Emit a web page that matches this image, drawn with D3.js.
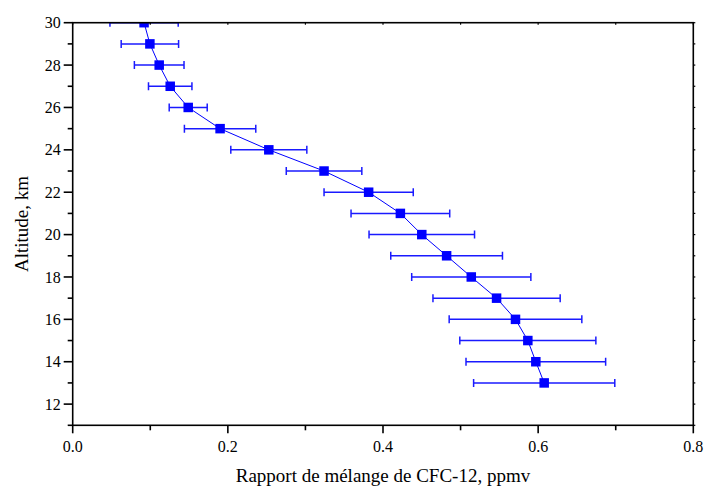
<!DOCTYPE html>
<html>
<head>
<meta charset="utf-8">
<script src="https://cdn.jsdelivr.net/npm/d3@7"></script>
<style>
  html, body { margin: 0; padding: 0; background: #fff; }
  svg { display: block; }
</style>
</head>
<body>
<div id="chart"></div>
<script>
// Data
const altitudes = [30, 29, 28, 27, 26, 25, 24, 23, 22, 21, 20, 19, 18, 17, 16, 15, 14, 13];
const mixingRatio = [0.092, 0.0995, 0.1115, 0.1257, 0.1489, 0.190, 0.2528, 0.324, 0.3815, 0.4224, 0.450, 0.482, 0.5138, 0.5464, 0.5708, 0.5867, 0.597, 0.6078];
const errors = [0.044, 0.037, 0.032, 0.028, 0.0245, 0.046, 0.049, 0.0487, 0.0575, 0.0636, 0.068, 0.072, 0.0768, 0.082, 0.0855, 0.0877, 0.090, 0.091];
const xTicks = [0.0, 0.2, 0.4, 0.6, 0.8];
const xMinorTicks = [0.1, 0.3, 0.5, 0.7];
const yTicks = [12, 14, 16, 18, 20, 22, 24, 26, 28, 30];
const yMinorTicks = [11, 13, 15, 17, 19, 21, 23, 25, 27, 29];
const xTitle = "Rapport de mélange de CFC-12, ppmv";
const yTitle = "Altitude, km";

const W = 707, H = 489;
const mLeft = 72.7, mRight = 693.3, mTop = 22.7, mBottom = 425.3;
const FONT = "'Liberation Serif', 'Times New Roman', 'DejaVu Serif', serif";

const svg = d3.select("#chart").append("svg").attr("width", W).attr("height", H)
  .attr("font-family", FONT);

const x = d3.scaleLinear().domain([0, 0.8]).range([mLeft, mRight]);
const y = d3.scaleLinear().domain([11, 30]).range([mBottom, mTop]);

const data = altitudes.map((a, i) => ({ a, v: mixingRatio[i], e: errors[i] }));

svg.append("defs").append("clipPath").attr("id", "clip")
  .append("rect").attr("x", mLeft).attr("y", mTop).attr("width", mRight - mLeft).attr("height", mBottom - mTop);

const plot = svg.append("g").attr("clip-path", "url(#clip)");
const blue = "#0000ff";

// connecting line
plot.append("path")
  .datum(data)
  .attr("fill", "none")
  .attr("stroke", blue)
  .attr("stroke-width", 1)
  .attr("d", d3.line().x(d => x(d.v)).y(d => y(d.a)));

// error bars
const eb = plot.append("g").attr("stroke", "#1a1aff").attr("stroke-width", 1.5);
data.forEach(d => {
  const yy = y(d.a), x1 = x(d.v - d.e), x2 = x(d.v + d.e);
  eb.append("line").attr("x1", x1).attr("x2", x2).attr("y1", yy).attr("y2", yy);
  eb.append("line").attr("x1", x1).attr("x2", x1).attr("y1", yy - 4).attr("y2", yy + 4);
  eb.append("line").attr("x1", x2).attr("x2", x2).attr("y1", yy - 4).attr("y2", yy + 4);
});

// markers
const ms = 9.5;
plot.selectAll("rect.m").data(data).enter().append("rect")
  .attr("class", "m")
  .attr("x", d => x(d.v) - ms / 2)
  .attr("y", d => y(d.a) - ms / 2)
  .attr("width", ms).attr("height", ms)
  .attr("fill", blue);

// frame
const axisG = svg.append("g").attr("stroke", "#000").attr("fill", "none");
axisG.append("rect").attr("x", mLeft).attr("y", mTop).attr("width", mRight - mLeft).attr("height", mBottom - mTop)
  .attr("stroke-width", 1.6);

// bottom axis ticks (outward)
xTicks.forEach(t => axisG.append("line").attr("x1", x(t)).attr("x2", x(t)).attr("y1", mBottom).attr("y2", mBottom + 8).attr("stroke-width", 1.6));
xMinorTicks.forEach(t => axisG.append("line").attr("x1", x(t)).attr("x2", x(t)).attr("y1", mBottom).attr("y2", mBottom + 5).attr("stroke-width", 1.6));
// left axis ticks (outward)
yTicks.forEach(t => axisG.append("line").attr("x1", mLeft).attr("x2", mLeft - 9).attr("y1", y(t)).attr("y2", y(t)).attr("stroke-width", 1.6));
yMinorTicks.forEach(t => axisG.append("line").attr("x1", mLeft).attr("x2", mLeft - 5).attr("y1", y(t)).attr("y2", y(t)).attr("stroke-width", 1.6));
// top and right tiny ticks
xTicks.concat(xMinorTicks).forEach(t => axisG.append("line").attr("x1", x(t)).attr("x2", x(t)).attr("y1", mTop).attr("y2", mTop + 2).attr("stroke-width", 1.2));
yTicks.concat(yMinorTicks).forEach(t => axisG.append("line").attr("x1", mRight).attr("x2", mRight + 2).attr("y1", y(t)).attr("y2", y(t)).attr("stroke-width", 1.2));

// tick labels
svg.append("g").selectAll("text").data(xTicks).enter().append("text")
  .attr("x", d => x(d)).attr("y", mBottom + 27)
  .attr("text-anchor", "middle").attr("font-size", 16).attr("fill", "#000")
  .text(d => d3.format(".1f")(d));

svg.append("g").selectAll("text").data(yTicks).enter().append("text")
  .attr("x", mLeft - 12).attr("y", d => y(d)).attr("dy", "0.35em")
  .attr("text-anchor", "end").attr("font-size", 16).attr("fill", "#000")
  .text(d => d);

// axis titles
svg.append("text").attr("x", (mLeft + mRight) / 2).attr("y", 482)
  .attr("text-anchor", "middle").attr("font-size", 19).attr("fill", "#000").text(xTitle);
svg.append("text")
  .attr("transform", `translate(28,${(mTop + mBottom) / 2}) rotate(-90)`)
  .attr("text-anchor", "middle").attr("font-size", 19).attr("fill", "#000").text(yTitle);
</script>
</body>
</html>
